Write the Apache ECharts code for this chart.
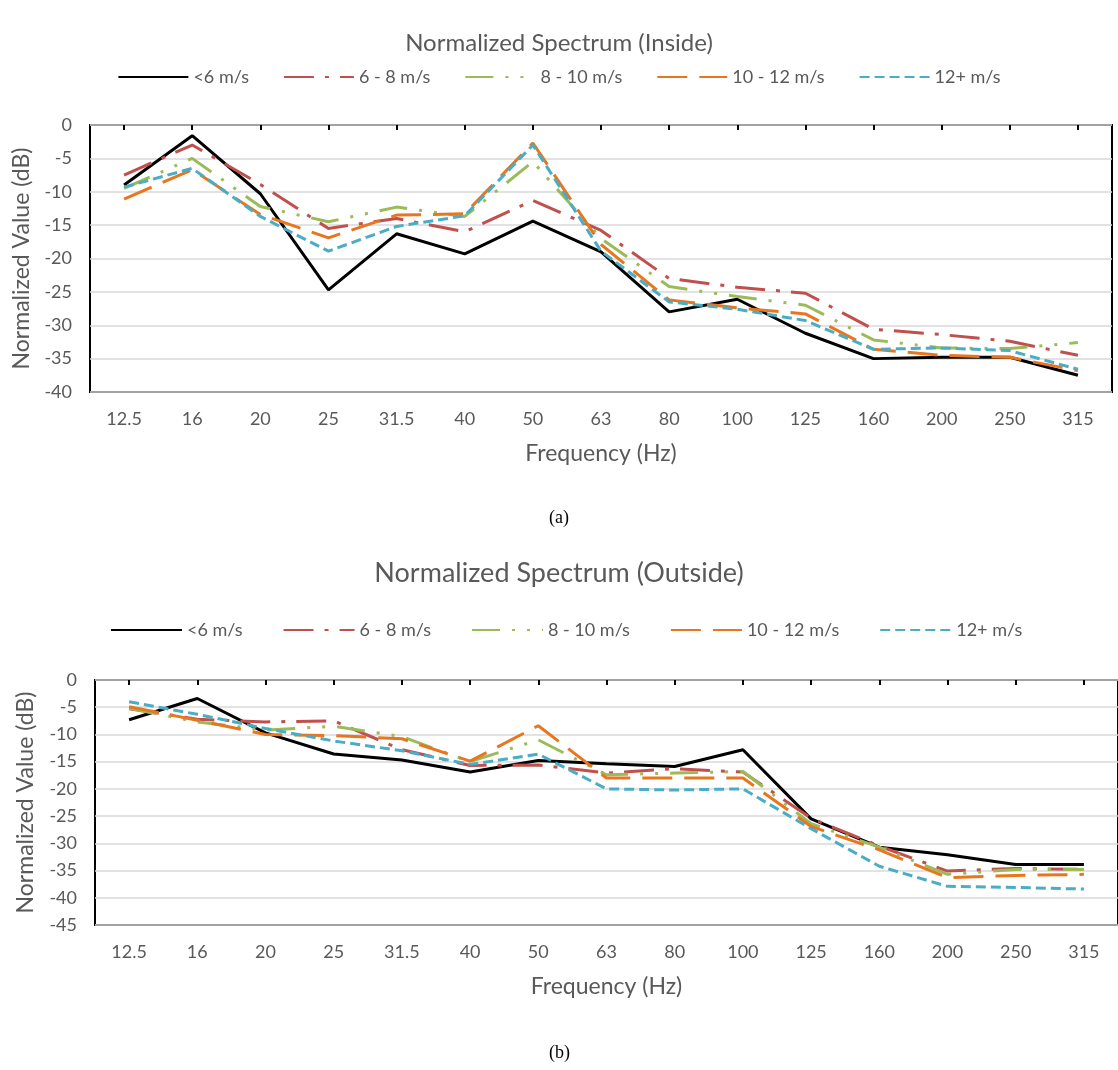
<!DOCTYPE html>
<html>
<head>
<meta charset="utf-8">
<script src="https://cdn.jsdelivr.net/npm/echarts@6/dist/echarts.min.js"></script>
<style>
html, body { margin: 0; padding: 0; background: #fff; }
#box { width: 1118px; height: 1070px; }
</style>
</head>
<body>
<div id="box"></div>
<script>
// 频率分类
var freqs = ['12.5', '16', '20', '25', '31.5', '40', '50', '63', '80', '100', '125', '160', '200', '250', '315'];
var speedNames = ['<6 m/s', '6 - 8 m/s', '8 - 10 m/s', '10 - 12 m/s', '12+ m/s'];
var yTicksInside = [0, -5, -10, -15, -20, -25, -30, -35, -40];
var yTicksOutside = [0, -5, -10, -15, -20, -25, -30, -35, -40, -45];

// (a) Inside
var inLt6 = [-9.0, -1.6, -10.3, -24.7, -16.3, -19.3, -14.4, -19.0, -28.0, -26.1, -31.2, -35.0, -34.8, -34.8, -37.5];
var in6to8 = [-7.5, -3.0, -8.9, -15.5, -14.0, -16.0, -11.3, -15.8, -23.0, -24.3, -25.2, -30.6, -31.4, -32.4, -34.5];
var in8to10 = [-9.5, -5.0, -12.2, -14.5, -12.3, -13.7, -5.5, -17.0, -24.2, -25.7, -27.0, -32.2, -33.4, -33.5, -32.6];
var in10to12 = [-11.1, -6.7, -13.4, -16.9, -13.5, -13.3, -2.7, -17.9, -26.2, -27.4, -28.3, -33.6, -34.5, -34.8, -36.8];
var in12plus = [-9.3, -6.5, -13.7, -18.9, -15.2, -13.6, -3.0, -18.9, -26.5, -27.6, -29.3, -33.6, -33.4, -33.8, -36.6];

// (b) Outside
var outLt6 = [-7.3, -3.4, -9.7, -13.6, -14.7, -16.9, -14.8, -15.4, -15.9, -12.8, -25.5, -30.7, -32.1, -33.9, -33.9];
var out6to8 = [-5.3, -7.2, -7.7, -7.5, -12.8, -15.7, -15.6, -17.1, -16.3, -16.9, -25.4, -30.5, -35.1, -34.6, -34.8];
var out8to10 = [-5.2, -7.7, -9.2, -8.5, -10.4, -15.0, -11.0, -17.4, -17.1, -16.8, -26.4, -30.7, -35.7, -34.8, -34.8];
var out10to12 = [-4.9, -7.4, -10.0, -10.2, -10.8, -14.9, -8.4, -18.0, -18.0, -18.0, -26.9, -31.2, -36.3, -35.9, -35.7];
var out12plus = [-4.0, -6.3, -8.9, -11.2, -13.0, -15.5, -13.6, -20.0, -20.2, -20.0, -27.3, -34.2, -37.9, -38.1, -38.4];

var font = 'Lato, "Open Sans", sans-serif';
var grey = '#595959';
var lineStyles = [
    { color: '#000000', type: 'solid' },
    { color: '#C0504D', type: [30, 11, 4, 11] },
    { color: '#9BBB59', type: [28, 12, 3, 12, 3, 12] },
    { color: '#E8761F', type: [30, 12] },
    { color: '#4BACC6', type: [10, 5] }
];

function makeSeries(gridIdx, list) {
    return list.map(function(d, i) {
        return {
            name: speedNames[i],
            type: 'line',
            xAxisIndex: gridIdx * 2,
            yAxisIndex: gridIdx,
            data: d,
            symbol: 'none',
            silent: true,
            lineStyle: { color: lineStyles[i].color, type: lineStyles[i].type, width: 3, cap: 'butt' },
            itemStyle: { color: lineStyles[i].color }
        };
    });
}

function catAxis(gridIdx) {
    return [{
        type: 'category',
        gridIndex: gridIdx,
        data: freqs,
        position: 'bottom',
        name: 'Frequency (Hz)',
        nameLocation: 'middle',
        nameGap: 50,
        nameTextStyle: { fontFamily: font, fontSize: 23, color: grey },
        axisLine: { show: false },
        axisTick: { show: false },
        axisLabel: { fontFamily: font, fontSize: 18, color: grey, margin: 18 }
    }, {
        // 顶部刻度线（0 轴）
        type: 'category',
        gridIndex: gridIdx,
        data: freqs,
        position: 'top',
        axisLine: { show: false },
        axisTick: { show: true, inside: true, alignWithLabel: true, length: 5, lineStyle: { color: '#000', width: 2 } },
        axisLabel: { show: false }
    }];
}

function valAxis(gridIdx, ticks, gap) {
    return {
        type: 'value',
        gridIndex: gridIdx,
        min: ticks[ticks.length - 1],
        max: ticks[0],
        interval: 5,
        name: 'Normalized Value (dB)',
        nameLocation: 'middle',
        nameGap: gap,
        nameTextStyle: { fontFamily: font, fontSize: 23, color: grey },
        axisLine: { show: false },
        axisTick: { show: false },
        axisLabel: { fontFamily: font, fontSize: 18, color: grey, margin: 18 },
        splitLine: { lineStyle: { color: '#d9d9d9', width: 1.5 } }
    };
}

var legendBase = {
    left: 'center',
    padding: 0,
    itemWidth: 70,
    itemHeight: 14,
    itemGap: 34,
    selectedMode: false,
    data: speedNames,
    itemStyle: { opacity: 0 },
    textStyle: { fontFamily: font, fontSize: 18, color: grey }
};

var myChart = echarts.init(document.getElementById('box'), null, { renderer: 'canvas' });
var option = {
    animation: false,
    backgroundColor: '#fff',
    title: [{
        text: 'Normalized Spectrum (Inside)',
        left: 'center',
        top: 31,
        padding: 0,
        textStyle: { fontFamily: font, fontSize: 24, fontWeight: 'normal', color: grey }
    }, {
        text: 'Normalized Spectrum (Outside)',
        left: 'center',
        top: 560,
        padding: 0,
        textStyle: { fontFamily: font, fontSize: 27, fontWeight: 'normal', color: grey }
    }],
    legend: [
        Object.assign({}, legendBase, { top: 68 }),
        Object.assign({}, legendBase, { top: 621, left: 110, itemWidth: 71, itemGap: 40 })
    ],
    grid: [
        { left: 90, top: 125, width: 1022, height: 267, show: true, borderColor: '#000', borderWidth: 2 },
        { left: 95, top: 680, width: 1030, height: 245, show: true, borderColor: '#000', borderWidth: 2 }
    ],
    xAxis: catAxis(0).concat(catAxis(1)),
    yAxis: [valAxis(0, yTicksInside, 54), valAxis(1, yTicksOutside, 58)],
    series: makeSeries(0, [inLt6, in6to8, in8to10, in10to12, in12plus])
        .concat(makeSeries(1, [outLt6, out6to8, out8to10, out10to12, out12plus])),
    graphic: [{
        type: 'text',
        left: 549,
        top: 509,
        style: { text: '(a)', font: '18px "Liberation Serif", serif', fill: '#000' }
    }, {
        type: 'text',
        left: 549,
        top: 1044,
        style: { text: '(b)', font: '18px "Liberation Serif", serif', fill: '#000' }
    }]
};
myChart.setOption(option);
</script>
</body>
</html>
